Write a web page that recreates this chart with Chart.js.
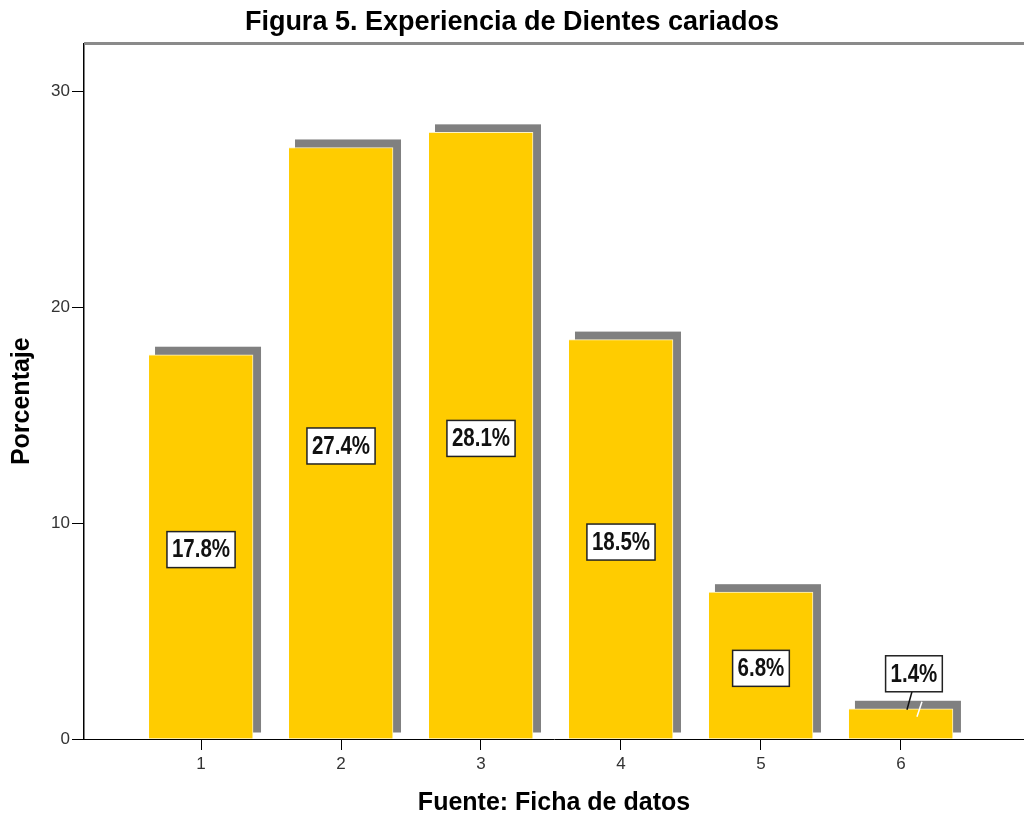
<!DOCTYPE html>
<html>
<head>
<meta charset="utf-8">
<script src="https://cdn.jsdelivr.net/npm/chart.js@4"></script>
<style>
  body { margin: 0; background: #fff; }
  canvas { display: block; }
</style>
</head>
<body>
<canvas id="chart" width="1024" height="816"></canvas>
<script>
// values
const categories = [1, 2, 3, 4, 5, 6];
const percentages = [17.8, 27.4, 28.1, 18.5, 6.8, 1.4];
const yTickValues = [0, 10, 20, 30];
const chartTitle = "Figura 5. Experiencia de Dientes cariados";
const yAxisTitle = "Porcentaje";
const xAxisTitle = "Fuente: Ficha de datos";

const fontFamily = "'Liberation Sans', Arial, sans-serif";

// grey block behind each bar, shifted up and right (the 3D look)
const barShadow = {
    id: "barShadow",
    beforeDatasetsDraw(chart) {
        const ctx = chart.ctx;
        const meta = chart.getDatasetMeta(0);
        ctx.save();
        ctx.fillStyle = "#808080";
        meta.data.forEach(bar => {
            const left = bar.x - bar.width / 2 + 6;
            const right = bar.x + bar.width / 2 + 8;
            const top = bar.y - 8;
            const bottom = bar.base - 6;
            ctx.fillRect(left, top, right - left, bottom - top);
        });
        ctx.restore();
    }
};

// boxed percentage labels
const valueLabels = {
    id: "valueLabels",
    afterDatasetsDraw(chart) {
        const ctx = chart.ctx;
        const meta = chart.getDatasetMeta(0);
        ctx.save();
        ctx.font = "bold 25px " + fontFamily;
        meta.data.forEach((bar, i) => {
            const text = percentages[i].toFixed(1) + "%";
            const textW = ctx.measureText(text).width * 0.82;
            const boxW = textW + 10;
            const boxH = 36;
            const barH = bar.base - bar.y;
            let cx = bar.x;
            let cy = bar.y + barH / 2 + 3;
            const outside = barH < boxH + 10;
            if (outside) {
                // small bar: label sits above with a leader line
                cx = bar.x + 13;
                cy = bar.y - 35;
                ctx.strokeStyle = "#111";
                ctx.lineWidth = 1.5;
                ctx.beginPath();
                ctx.moveTo(cx - 2, cy + boxH / 2);
                ctx.lineTo(cx - 7, bar.y + 1);
                ctx.stroke();
                ctx.strokeStyle = "#fff";
                ctx.beginPath();
                ctx.moveTo(cx + 8, bar.y - 7);
                ctx.lineTo(cx + 3, bar.y + 8);
                ctx.stroke();
            }
            ctx.fillStyle = "#fff";
            ctx.fillRect(cx - boxW / 2, cy - boxH / 2, boxW, boxH);
            ctx.strokeStyle = "#222";
            ctx.lineWidth = 1.5;
            ctx.strokeRect(cx - boxW / 2, cy - boxH / 2, boxW, boxH);

            ctx.save();
            ctx.translate(cx, cy);
            ctx.scale(0.82, 1);
            ctx.fillStyle = "#111";
            ctx.textAlign = "center";
            ctx.textBaseline = "middle";
            ctx.fillText(text, 0, 1);
            ctx.restore();
        });
        ctx.restore();
    }
};

// grey line closing the plot at the top, and the y axis title
const frameAndTitle = {
    id: "frameAndTitle",
    afterDraw(chart) {
        const {ctx, chartArea} = chart;
        ctx.save();
        ctx.strokeStyle = "#8a8a8a";
        ctx.lineWidth = 3;
        ctx.beginPath();
        ctx.moveTo(chartArea.left, chartArea.top);
        ctx.lineTo(chartArea.right, chartArea.top);
        ctx.stroke();

        ctx.translate(22, (chartArea.top + chartArea.bottom) / 2 + 10);
        ctx.rotate(-Math.PI / 2);
        ctx.font = "bold 25px " + fontFamily;
        ctx.fillStyle = "#000";
        ctx.textAlign = "center";
        ctx.textBaseline = "middle";
        ctx.fillText(yAxisTitle, 0, 0);
        ctx.restore();
    }
};

new Chart(document.getElementById("chart"), {
    type: "bar",
    data: {
        datasets: [{
            data: categories.map((c, i) => ({x: c, y: percentages[i]})),
            backgroundColor: "#FFCC00",
            borderColor: "#FFF3C4",
            borderWidth: {top: 1, right: 1, left: 0, bottom: 0},
            borderSkipped: false,
            barThickness: 104
        }]
    },
    options: {
        responsive: false,
        animation: false,
        layout: {padding: 0},
        plugins: {
            legend: {display: false},
            tooltip: {enabled: false},
            title: {
                display: true,
                text: chartTitle,
                color: "#000",
                font: {family: fontFamily, size: 27, weight: "bold", lineHeight: 1.2},
                padding: {top: 6, bottom: 5}
            }
        },
        scales: {
            x: {
                type: "linear",
                offset: false,
                min: 0.164,
                max: 6.879,
                afterBuildTicks: scale => { scale.ticks = categories.map(v => ({value: v})); },
                afterFit: scale => { scale.height = 77; },
                grid: {offset: false, drawOnChartArea: false, drawTicks: true, tickLength: 11, color: "#000"},
                border: {display: true, color: "#000", width: 1},
                ticks: {color: "#333", font: {family: fontFamily, size: 17}, padding: 4},
                title: {
                    display: true,
                    text: xAxisTitle,
                    color: "#000",
                    font: {family: fontFamily, size: 25, weight: "bold", lineHeight: 1},
                    padding: {top: 0, bottom: 0}
                }
            },
            y: {
                min: 0,
                max: 32.22,
                afterBuildTicks: scale => { scale.ticks = yTickValues.map(v => ({value: v})); },
                afterFit: scale => { scale.width = 84; },
                grid: {drawOnChartArea: false, drawTicks: true, tickLength: 12, color: "#000"},
                border: {display: true, color: "#000", width: 1.5},
                ticks: {color: "#333", font: {family: fontFamily, size: 17}, padding: 2}
            }
        }
    },
    plugins: [barShadow, valueLabels, frameAndTitle]
});
</script>
</body>
</html>
